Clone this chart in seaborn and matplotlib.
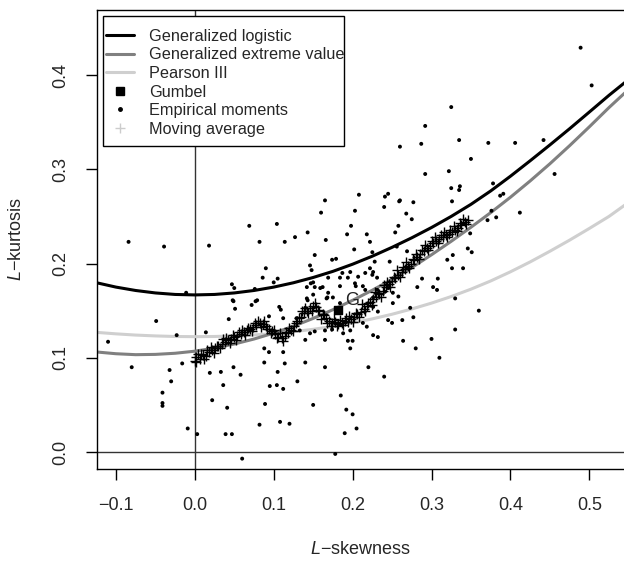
import numpy as np
import pandas as pd
import matplotlib
matplotlib.use("Agg")
import matplotlib.pyplot as plt
import seaborn as sns
from matplotlib.lines import Line2D
from matplotlib.patches import Rectangle

# theoretical curves
curve_x = [-0.125, -0.1, -0.075, -0.05, -0.025, 0.0, 0.025, 0.05, 0.075, 0.1,
           0.125, 0.15, 0.175, 0.2, 0.225, 0.25, 0.275, 0.3, 0.325, 0.35,
           0.375, 0.4, 0.425, 0.45, 0.475, 0.5, 0.525, 0.545]
glo_y = [0.1797, 0.1750, 0.1714, 0.1688, 0.1672, 0.1667, 0.1672, 0.1688, 0.1714, 0.1750,
         0.1796, 0.1852, 0.1917, 0.1993, 0.2078, 0.2172, 0.2273, 0.2382, 0.2500, 0.2628,
         0.2770, 0.2926, 0.3090, 0.3258, 0.3430, 0.3607, 0.3785, 0.3920]
gev_y = [0.1062, 0.1043, 0.1033, 0.1036, 0.1048, 0.1070, 0.1103, 0.1146, 0.1199, 0.1262,
         0.1335, 0.1418, 0.1510, 0.1610, 0.1717, 0.1832, 0.1957, 0.2093, 0.2236, 0.2385,
         0.2540, 0.2703, 0.2876, 0.3058, 0.3250, 0.3450, 0.3655, 0.3810]
pe3_y = [0.1270, 0.1254, 0.1241, 0.1232, 0.1226, 0.1224, 0.1226, 0.1232, 0.1242, 0.1257,
         0.1277, 0.1302, 0.1333, 0.1370, 0.1413, 0.1462, 0.1518, 0.1580, 0.1650, 0.1728,
         0.1815, 0.1912, 0.2017, 0.2130, 0.2248, 0.2372, 0.2500, 0.2620]

gumbel_x = [0.181]
gumbel_y = [0.151]

# empirical L-moments
emp_x = [0.489, 0.503, 0.325, 0.292, 0.260, 0.287, 0.335, 0.372, 0.406, 0.442,
         0.350, 0.292, 0.322, 0.325, 0.336, 0.335, 0.326, 0.277, 0.378, 0.456,
         0.387, 0.391, 0.376, 0.412, 0.382, 0.268, 0.260, 0.208, 0.241, 0.245,
         0.165, 0.259, 0.240, 0.160, 0.203, 0.275, 0.198, 0.258, 0.143, 0.193,
         0.218, 0.254, 0.166, 0.222, 0.202, 0.256, 0.269, 0.371, 0.349, 0.346,
         0.351, 0.152, 0.174, 0.179, 0.225, 0.327, 0.320, 0.146, 0.148, 0.228,
         0.247, 0.340, 0.326, 0.197, 0.187, 0.216, 0.222, 0.226, 0.169, 0.184,
         0.194, 0.207, 0.150, 0.288, 0.308, 0.142, 0.152, 0.162, 0.302, 0.307,
         0.184, 0.204, 0.213, 0.231, 0.241, 0.175, 0.167, 0.226, 0.282, 0.330,
         0.258, 0.069, 0.104, 0.018, 0.082, 0.114, 0.127, 0.090, 0.086, 0.100,
         0.105, 0.047, 0.050, 0.076, -0.011, 0.147, 0.159, 0.142, 0.143, 0.048,
         0.079, 0.072, 0.051, 0.107, 0.109, 0.129, 0.140, 0.043, 0.094, 0.112,
         0.014, 0.168, -0.049, -0.023, -0.110, -0.080, -0.032, -0.016, -0.030, -0.041,
         -0.041, -0.041, -0.009, 0.003, 0.060, 0.049, 0.077, 0.019, 0.033, 0.049,
         0.058, 0.036, 0.022, 0.041, 0.039, 0.047, 0.082, 0.089, 0.095, 0.104,
         0.112, 0.105, 0.088, 0.114, 0.088, 0.094, 0.112, 0.108, -0.084, -0.039,
         0.203, 0.225, 0.231, 0.216, 0.169, 0.150, 0.184, 0.226, 0.232, 0.206,
         0.245, 0.250, 0.277, 0.133, 0.146, 0.165, 0.174, 0.188, 0.197, 0.213,
         0.218, 0.152, 0.226, 0.232, 0.140, 0.165, 0.194, 0.200, 0.264, 0.197,
         0.263, 0.273, 0.251, 0.245, 0.251, 0.178, 0.130, 0.150, 0.185, 0.200,
         0.205, 0.120, 0.220, 0.240, 0.280, 0.300, 0.330, 0.360, 0.310, 0.190,
         0.192, 0.140, 0.165]
emp_y = [0.429, 0.389, 0.366, 0.346, 0.324, 0.327, 0.331, 0.328, 0.328, 0.331,
         0.311, 0.295, 0.298, 0.280, 0.282, 0.278, 0.266, 0.265, 0.285, 0.295,
         0.272, 0.274, 0.256, 0.254, 0.249, 0.253, 0.267, 0.273, 0.271, 0.274,
         0.267, 0.266, 0.260, 0.254, 0.256, 0.247, 0.240, 0.240, 0.233, 0.231,
         0.231, 0.233, 0.225, 0.223, 0.215, 0.218, 0.213, 0.246, 0.232, 0.216,
         0.212, 0.209, 0.204, 0.205, 0.212, 0.209, 0.204, 0.198, 0.193, 0.202,
         0.202, 0.195, 0.195, 0.191, 0.190, 0.190, 0.195, 0.191, 0.185, 0.185,
         0.185, 0.186, 0.180, 0.184, 0.184, 0.175, 0.175, 0.175, 0.175, 0.172,
         0.176, 0.176, 0.176, 0.172, 0.170, 0.164, 0.163, 0.164, 0.175, 0.163,
         0.165, 0.240, 0.242, 0.219, 0.223, 0.223, 0.228, 0.195, 0.185, 0.180,
         0.184, 0.178, 0.174, 0.173, 0.169, 0.179, 0.174, 0.163, 0.161, 0.161,
         0.161, 0.156, 0.152, 0.154, 0.151, 0.142, 0.153, 0.141, 0.144, 0.142,
         0.127, 0.164, 0.139, 0.124, 0.117, 0.090, 0.087, 0.094, 0.075, 0.063,
         0.052, 0.049, 0.025, 0.019, -0.007, 0.160, 0.160, 0.084, 0.085, 0.090,
         0.082, 0.071, 0.055, 0.047, 0.019, 0.019, 0.029, 0.051, 0.070, 0.071,
         0.067, 0.085, 0.095, 0.094, 0.110, 0.106, 0.106, 0.032, 0.223, 0.218,
         0.179, 0.188, 0.185, 0.172, 0.169, 0.167, 0.158, 0.154, 0.149, 0.147,
         0.140, 0.137, 0.143, 0.129, 0.126, 0.129, 0.130, 0.126, 0.129, 0.137,
         0.133, 0.128, 0.124, 0.122, 0.119, 0.119, 0.118, 0.118, 0.118, 0.110,
         0.140, 0.153, 0.158, 0.174, 0.169, -0.002, 0.075, 0.050, 0.060, 0.040,
         0.025, 0.030, 0.090, 0.080, 0.110, 0.120, 0.130, 0.150, 0.100, 0.020,
         0.045, 0.095, 0.090]

# moving average of the empirical moments
ma_x = [0.000, 0.002, 0.006, 0.010, 0.014, 0.018, 0.022, 0.026, 0.030, 0.034,
        0.038, 0.042, 0.046, 0.050, 0.054, 0.058, 0.062, 0.066, 0.070, 0.074,
        0.078, 0.082, 0.086, 0.090, 0.094, 0.098, 0.102, 0.106, 0.110, 0.114,
        0.118, 0.122, 0.126, 0.130, 0.134, 0.138, 0.142, 0.146, 0.150, 0.154,
        0.158, 0.162, 0.166, 0.170, 0.174, 0.178, 0.182, 0.186, 0.190, 0.194,
        0.198, 0.202, 0.206, 0.210, 0.214, 0.218, 0.222, 0.226, 0.230, 0.234,
        0.238, 0.242, 0.246, 0.250, 0.254, 0.258, 0.262, 0.266, 0.270, 0.274,
        0.278, 0.282, 0.286, 0.290, 0.294, 0.298, 0.302, 0.306, 0.310, 0.314,
        0.318, 0.322, 0.326, 0.330, 0.334, 0.338, 0.342, 0.346,
        0.004, 0.020, 0.036, 0.060, 0.076, 0.084, 0.096, 0.108, 0.120, 0.136,
        0.148, 0.160, 0.172, 0.184, 0.196, 0.212, 0.228, 0.240, 0.256, 0.268,
        0.280, 0.292, 0.304, 0.316, 0.328, 0.340,
        0.001, 0.008, 0.012, 0.016, 0.024, 0.028, 0.032, 0.040, 0.044, 0.048,
        0.052, 0.056, 0.064, 0.068, 0.072, 0.080, 0.088, 0.092, 0.100, 0.104,
        0.112, 0.116, 0.124, 0.128, 0.132, 0.140, 0.144, 0.152, 0.156, 0.164,
        0.168, 0.176, 0.180, 0.188, 0.192, 0.200, 0.204, 0.208, 0.216, 0.220,
        0.224, 0.232, 0.236, 0.244, 0.248, 0.252, 0.260, 0.264, 0.272, 0.276,
        0.284, 0.288, 0.296, 0.300, 0.308, 0.312, 0.320, 0.324, 0.332, 0.336,
        0.344]
ma_y = [0.097, 0.101, 0.099, 0.103, 0.102, 0.106, 0.108, 0.110, 0.113, 0.115,
        0.117, 0.119, 0.120, 0.122, 0.123, 0.125, 0.127, 0.129, 0.131, 0.133,
        0.135, 0.137, 0.136, 0.134, 0.131, 0.128, 0.125, 0.122, 0.121, 0.123,
        0.126, 0.130, 0.134, 0.139, 0.143, 0.147, 0.150, 0.153, 0.155, 0.154,
        0.150, 0.146, 0.142, 0.139, 0.137, 0.138, 0.136, 0.137, 0.139, 0.138,
        0.141, 0.143, 0.146, 0.149, 0.152, 0.155, 0.159, 0.162, 0.165, 0.168,
        0.171, 0.175, 0.178, 0.181, 0.185, 0.188, 0.191, 0.194, 0.197, 0.200,
        0.204, 0.207, 0.210, 0.213, 0.216, 0.219, 0.222, 0.224, 0.226, 0.228,
        0.230, 0.231, 0.233, 0.236, 0.238, 0.241, 0.244, 0.246,
        0.104, 0.111, 0.120, 0.130, 0.137, 0.133, 0.126, 0.126, 0.132, 0.150,
        0.150, 0.141, 0.134, 0.140, 0.144, 0.157, 0.170, 0.177, 0.193, 0.202,
        0.210, 0.220, 0.228, 0.233, 0.240, 0.247,
        0.095, 0.104, 0.099, 0.108, 0.105, 0.113, 0.110, 0.121, 0.116, 0.124,
        0.119, 0.127, 0.124, 0.132, 0.128, 0.139, 0.139, 0.131, 0.130, 0.121,
        0.118, 0.127, 0.128, 0.137, 0.142, 0.153, 0.148, 0.158, 0.151, 0.145,
        0.137, 0.141, 0.134, 0.135, 0.142, 0.138, 0.147, 0.143, 0.150, 0.158,
        0.156, 0.169, 0.165, 0.180, 0.175, 0.186, 0.186, 0.196, 0.195, 0.205,
        0.205, 0.214, 0.214, 0.224, 0.222, 0.230, 0.228, 0.236, 0.234, 0.243,
        0.242]

# Gumbel letter mark next to the square
g_label_x, g_label_y = 0.199, 0.161

sns.set_style("ticks")
plt.rcParams['font.family'] = ['Liberation Sans', 'DejaVu Sans']
plt.rcParams['mathtext.fontset'] = 'custom'
plt.rcParams['mathtext.it'] = 'Liberation Sans:italic'
plt.rcParams['mathtext.rm'] = 'Liberation Sans'

fig = plt.figure(figsize=(6.24, 5.62), dpi=100)
ax = fig.add_axes([97 / 624, 1 - 469 / 562, 1 - 97 / 624, 459 / 562])

curves = pd.DataFrame({"x": curve_x, "glo": glo_y, "gev": gev_y, "pe3": pe3_y})
emp = pd.DataFrame({"x": emp_x, "y": emp_y})
ma = pd.DataFrame({"x": ma_x, "y": ma_y})

ax.axhline(0, color="#333333", lw=1, zorder=1)
ax.axvline(0, color="#333333", lw=1, zorder=1)

sns.scatterplot(data=emp, x="x", y="y", ax=ax, color="black", s=8,
                edgecolor="none", zorder=3)
sns.lineplot(data=curves, x="x", y="pe3", ax=ax, color="#cfcfcf", lw=2.2, zorder=2)
sns.lineplot(data=curves, x="x", y="gev", ax=ax, color="#808080", lw=2.2, zorder=2)
sns.lineplot(data=curves, x="x", y="glo", ax=ax, color="black", lw=2.2, zorder=2)
ax.scatter(ma["x"], ma["y"], marker="+", s=60, color="black", lw=1.0, zorder=4)
ax.scatter(gumbel_x, gumbel_y, marker="s", s=40, color="black", zorder=5)
ax.text(g_label_x, g_label_y, "G", fontsize=13, color="#222222",
        ha="center", va="center", zorder=5)

ax.set_xlim(-0.124, 0.544)
ax.set_ylim(-0.018, 0.469)
ax.set_xticks([-0.1, 0.0, 0.1, 0.2, 0.3, 0.4, 0.5])
ax.set_xticklabels(["\u22120.1", "0.0", "0.1", "0.2", "0.3", "0.4", "0.5"])
ax.set_yticks([0.0, 0.1, 0.2, 0.3, 0.4])
ax.set_yticklabels(["0.0", "0.1", "0.2", "0.3", "0.4"])
ax.tick_params(axis="both", direction="out", length=8, width=1, color="black",
               labelsize=13, pad=12)
ax.tick_params(axis="y", labelrotation=90)
for lab in ax.get_yticklabels():
    lab.set_va("center")

for side in ["left", "bottom", "top"]:
    ax.spines[side].set_color("black")
    ax.spines[side].set_linewidth(1)
ax.spines["right"].set_visible(False)

ax.set_xlabel("$L$\u2212skewness", fontsize=13)
ax.set_ylabel("$L$\u2212kurtosis", fontsize=13)
ax.xaxis.set_label_coords(0.5, -0.176)
ax.xaxis.label.set_va("center")
ax.yaxis.set_label_coords(-0.152, 0.5)
ax.yaxis.label.set_va("center")

# legend box drawn separately so it hugs the text like the original
ax.add_patch(Rectangle((6 / 527, 323 / 459), 241 / 527, 130 / 459,
                       transform=ax.transAxes, facecolor="white",
                       edgecolor="black", lw=1, zorder=6))
handles = [
    Line2D([], [], color="black", lw=2.2),
    Line2D([], [], color="#808080", lw=2.2),
    Line2D([], [], color="#cfcfcf", lw=2.2),
    Line2D([], [], color="black", marker="s", ls="none", markersize=6),
    Line2D([], [], color="black", marker="o", ls="none", markersize=2.5),
    Line2D([], [], color="#cccccc", marker="+", ls="none", markersize=7),
]
labels = ["Generalized logistic", "Generalized extreme value", "Pearson III",
          "Gumbel", "Empirical moments", "Moving average"]
leg = ax.legend(handles, labels, loc="upper left", bbox_to_anchor=(0.0076, 0.9695),
                fontsize=11.7, frameon=False, borderaxespad=0,
                handlelength=1.75, handletextpad=0.92, labelspacing=0.22,
                borderpad=0.3)
leg.set_zorder(7)

fig.savefig("out.png", dpi=100)
